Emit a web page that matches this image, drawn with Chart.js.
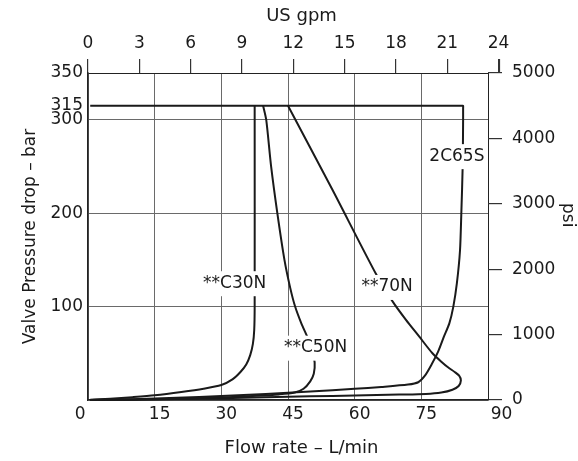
<!DOCTYPE html>
<html lang="en">
<head>
<meta charset="UTF-8">
<title>Valve pressure drop</title>
<script src="https://cdn.jsdelivr.net/npm/chart.js"></script>
<style>
  html, body { margin: 0; padding: 0; background: #fff; }
  canvas { display: block; }
</style>
</head>
<body>
<canvas id="flowChart" width="578" height="461"></canvas>
<script>
// axis ticks
const flowTicks = [0, 15, 30, 45, 60, 75, 90];          // L/min
const gpmTicks = [0, 3, 6, 9, 12, 15, 18, 21, 24];      // US gpm
const barTicks = [0, 100, 200, 300, 315, 350];
const psiTicks = [0, 1000, 2000, 3000, 4000, 5000];

const seriesNames = ['**C30N', '**C50N', '**70N', '2C65S'];

// flow (L/min) / pressure drop (bar), traced from relief setting down to zero
const c30nFlow = [37.5, 37.5, 37.4, 37.1, 36.5, 35.6, 34.3, 32.5, 30, 26, 21, 15, 10, 5, 0.5];
const c30nBar  = [315, 100, 75, 60, 48, 38, 30, 22, 16, 12, 8.5, 5, 3, 1.3, 0.2];

const c50nFlow = [39.4, 40.1, 41.2, 42.6, 44.2, 45.5, 46.6, 48, 49.3, 50.4, 51, 50.8, 50, 48.5, 46.5, 43, 38, 30, 20, 10, 0.5];
const c50nBar  = [315, 300, 250, 200, 150, 120, 100, 82, 68, 55, 40, 28, 20, 12, 8, 6, 4.5, 2.8, 1.4, 0.5, 0.1];

const n70Flow = [45, 55, 64.9, 68.6, 71.5, 74.5, 77.5, 79.5, 81, 82.5, 83.5, 83.9, 83.4, 82, 79.5, 76, 70, 60, 50, 40, 30, 20, 10, 0.5];
const n70Bar  = [315, 225, 134, 105, 86, 68, 50, 41, 35, 30, 26, 21, 15, 11, 8, 6.5, 5.8, 4.8, 4, 3, 2, 1.1, 0.4, 0.1];

// 2C65S carries the 315 bar relief line across the top
const s65Flow = [0.5, 21, 42, 63, 80, 84.2, 84.4, 84.4, 84.4, 84.3, 84, 83.7, 83, 82.2, 81.3, 80.1, 78.8, 77.3, 75.8, 74.3, 72, 66, 60, 50, 40, 30, 20, 10, 0.5];
const s65Bar  = [315, 315, 315, 315, 315, 315, 315, 312, 300, 250, 200, 160, 125, 100, 82, 68, 52, 38, 26, 19, 16.5, 14, 12, 9, 6.5, 4.2, 2.3, 0.9, 0.1];

const GPM_TOP = 23.38;   // gpm scale reading at 90 L/min on this sheet

const ink = '#1a1a1a';
const frame = '#222';
const gridGray = '#6a6a6a';
const font = 'DejaVu Sans';

const zip = (xs, ys) => xs.map((v, i) => ({ x: v, y: ys[i] }));
const curves = [
  zip(c30nFlow, c30nBar),
  zip(c50nFlow, c50nBar),
  zip(n70Flow, n70Bar),
  zip(s65Flow, s65Bar)
];

// where each curve name sits, in flow / bar units
const labelSpots = [
  { flow: 33.0, bar: 125 },
  { flow: 51.2, bar: 56 },
  { flow: 67.3, bar: 121 },
  { flow: 83.0, bar: 261 }
];

const curveLabels = {
  id: 'curveLabels',
  afterDatasetsDraw(chart) {
    const { ctx, scales: { x, y } } = chart;
    ctx.save();
    ctx.font = `17px "${font}"`;
    ctx.textAlign = 'center';
    ctx.textBaseline = 'middle';
    labelSpots.forEach((s, i) => {
      const px = x.getPixelForValue(s.flow);
      const py = y.getPixelForValue(s.bar);
      const w = ctx.measureText(seriesNames[i]).width;
      ctx.fillStyle = '#fff';
      ctx.fillRect(px - w / 2 - 2, py - 12, w + 4, 25);
      ctx.fillStyle = ink;
      ctx.fillText(seriesNames[i], px, py);
    });
    ctx.restore();
  },
  afterDraw(chart) {
    // the 24 gpm tick lies past the plot edge, so the scale skips its mark
    const g = chart.scales.gpm;
    const px = Math.round(g.getPixelForValue(24)) + 0.5;
    const ctx = chart.ctx;
    ctx.save();
    ctx.strokeStyle = '#333';
    ctx.lineWidth = 1.2;
    ctx.beginPath();
    ctx.moveTo(px, g.bottom - 14);
    ctx.lineTo(px, g.bottom);
    ctx.stroke();
    ctx.restore();
  }
};

Chart.defaults.font.family = font;
Chart.defaults.font.size = 17;
Chart.defaults.color = ink;

new Chart(document.getElementById('flowChart'), {
  type: 'scatter',
  data: {
    datasets: curves.map((pts, i) => ({
      label: seriesNames[i],
      data: pts,
      showLine: true,
      borderColor: ink,
      borderWidth: 2,
      pointRadius: 0,
      tension: 0.25,
      clip: false
    }))
  },
  options: {
    responsive: false,
    animation: false,
    devicePixelRatio: 1,
    events: [],
    layout: { padding: 0 },
    plugins: { legend: { display: false }, tooltip: { enabled: false } },
    scales: {
      x: {
        type: 'linear',
        position: 'bottom',
        min: 0,
        max: 90,
        afterBuildTicks: s => { s.ticks = flowTicks.map(v => ({ value: v })); },
        afterFit: s => { s.height = 61; },
        ticks: {
          padding: 4,
          labelOffset: 5,
          maxRotation: 0,
          autoSkip: false,
          callback: v => v === 0 ? '0\u2002\u2002\u2002' : v === 90 ? '\u2002\u200290' : String(v)
        },
        grid: {
          drawTicks: false,
          lineWidth: 1,
          color: c => c.tick && c.tick.value === 90 ? frame : gridGray
        },
        border: { color: frame, width: 1.5 },
        title: {
          display: true,
          text: '\u2003\u2002Flow rate \u2013 L/min',
          font: { size: 18 },
          padding: { top: 0, bottom: 2 }
        }
      },
      gpm: {
        type: 'linear',
        position: 'top',
        min: 0,
        max: GPM_TOP,
        afterBuildTicks: s => { s.ticks = gpmTicks.map(v => ({ value: v })); },
        afterFit: s => { s.height = 73; },
        ticks: { padding: 5, maxRotation: 0, autoSkip: false },
        grid: { drawOnChartArea: false, tickLength: 14, color: '#333', lineWidth: 1.2 },
        border: { display: false },
        title: {
          display: true,
          text: '\u2003\u2002US gpm',
          font: { size: 18 },
          padding: { top: 6, bottom: 0 }
        }
      },
      y: {
        type: 'linear',
        position: 'left',
        min: 0,
        max: 350,
        afterBuildTicks: s => { s.ticks = barTicks.map(v => ({ value: v })); },
        afterFit: s => { s.width = 88; },
        ticks: {
          padding: 5,
          autoSkip: false,
          callback: v => v === 0 ? '' : String(v)
        },
        grid: {
          drawTicks: false,
          lineWidth: 1,
          color: c => {
            const v = c.tick && c.tick.value;
            if (v === 315) return 'rgba(0,0,0,0)';
            return v === 350 ? frame : gridGray;
          }
        },
        border: { color: frame, width: 1.5 },
        title: {
          display: true,
          text: 'Valve Pressure drop \u2013 bar',
          padding: { top: 20, bottom: 0 }
        }
      },
      psi: {
        type: 'linear',
        position: 'right',
        min: 0,
        max: 5000,
        afterBuildTicks: s => { s.ticks = psiTicks.map(v => ({ value: v })); },
        afterFit: s => { s.width = 90; },
        ticks: { padding: 10, autoSkip: false, callback: v => String(v) },
        grid: { drawOnChartArea: false, tickLength: 14, color: '#333', lineWidth: 1.2 },
        border: { display: false },
        title: {
          display: true,
          text: 'psi\u2003\u2003\u2002',
          padding: { top: 0, bottom: 0 }
        }
      }
    }
  },
  plugins: [curveLabels]
});
</script>
</body>
</html>
